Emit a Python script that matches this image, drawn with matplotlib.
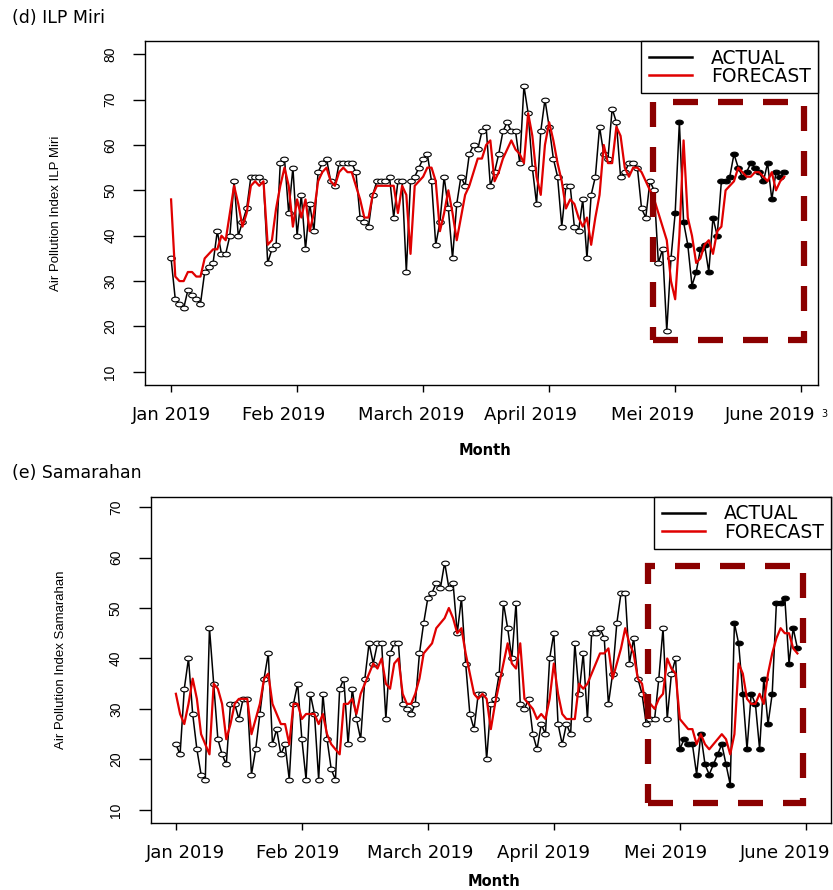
import numpy as np
import matplotlib
matplotlib.use('Agg')
import matplotlib.pyplot as plt
from matplotlib.lines import Line2D
from matplotlib.patches import Rectangle

plt.rcParams['font.family'] = ['DejaVu Sans']

# month ticks every 30 days; the labels sit a bit off the ticks in the original
month_labels = ['Jan 2019', 'Feb 2019', 'March 2019', 'April 2019', 'Mei 2019', 'June 2019']
month_ticks = [0, 30, 60, 90, 120, 150]
test_start = 120   # days from here are drawn with filled points

# (d) ILP Miri
miri_actual = [35, 26, 25, 24, 28, 27, 26, 25, 32, 33,
               34, 41, 36, 36, 40, 52, 40, 43, 46, 53,
               53, 53, 52, 34, 37, 38, 56, 57, 45, 55,
               40, 49, 37, 47, 41, 54, 56, 57, 52, 51,
               56, 56, 56, 56, 54, 44, 43, 42, 49, 52,
               52, 52, 53, 44, 52, 52, 32, 52, 53, 55,
               57, 58, 52, 38, 43, 53, 46, 35, 47, 53,
               51, 58, 60, 59, 63, 64, 51, 54, 58, 63,
               65, 63, 63, 56, 73, 67, 55, 47, 63, 70,
               64, 57, 53, 42, 51, 51, 42, 41, 48, 35,
               49, 53, 64, 58, 57, 68, 65, 53, 54, 56,
               56, 55, 46, 44, 52, 50, 34, 37, 19, 35,
               45, 65, 43, 38, 29, 32, 37, 38, 32, 44,
               40, 52, 52, 53, 58, 55, 53, 54, 56, 55,
               54, 52, 56, 48, 54, 53, 54]
miri_forecast = [48, 31, 30, 30, 32, 32, 31, 31, 35, 36,
                 37, 37, 40, 39, 45, 51, 47, 42, 45, 51,
                 52, 51, 52, 38, 39, 46, 51, 55, 51, 42,
                 48, 44, 48, 41, 45, 52, 54, 55, 52, 51,
                 54, 55, 54, 54, 51, 48, 44, 44, 49, 51,
                 51, 51, 51, 51, 45, 51, 49, 36, 51, 52,
                 53, 55, 55, 52, 41, 45, 50, 45, 39, 44,
                 49, 51, 54, 57, 57, 60, 61, 52, 54, 57,
                 59, 61, 59, 58, 56, 67, 62, 53, 49, 60,
                 65, 61, 56, 52, 46, 48, 47, 44, 42, 44,
                 38, 44, 49, 60, 56, 56, 64, 62, 55, 53,
                 55, 55, 54, 52, 50, 48, 45, 42, 39, 30,
                 26, 40, 61, 44, 40, 34, 35, 38, 39, 36,
                 41, 42, 50, 51, 52, 55, 54, 53, 53, 54,
                 54, 53, 52, 54, 50, 52, 53]

# (e) Samarahan
sam_actual = [23, 21, 34, 40, 29, 22, 17, 16, 46, 35,
              24, 21, 19, 31, 31, 28, 32, 32, 17, 22,
              29, 36, 41, 23, 26, 21, 23, 16, 31, 35,
              24, 16, 33, 29, 16, 33, 24, 18, 16, 34,
              36, 23, 34, 28, 24, 36, 43, 39, 43, 43,
              28, 41, 43, 43, 31, 30, 29, 31, 41, 47,
              52, 53, 55, 54, 59, 54, 55, 45, 52, 39,
              29, 26, 33, 33, 20, 31, 32, 37, 51, 46,
              40, 51, 31, 30, 32, 25, 22, 27, 25, 40,
              45, 27, 23, 27, 25, 43, 33, 41, 28, 45,
              45, 46, 44, 31, 37, 47, 53, 53, 39, 44,
              36, 33, 27, 28, 28, 36, 46, 28, 37, 40,
              22, 24, 23, 23, 17, 25, 19, 17, 19, 21,
              23, 19, 15, 47, 43, 33, 22, 33, 31, 22,
              36, 27, 33, 51, 51, 52, 39, 46, 42]
sam_forecast = [33, 29, 27, 31, 36, 32, 25, 23, 21, 35,
                34, 31, 24, 27, 31, 32, 32, 32, 25, 28,
                31, 36, 37, 31, 29, 27, 27, 23, 31, 31,
                28, 29, 29, 29, 27, 29, 25, 23, 22, 21,
                31, 31, 32, 29, 33, 35, 37, 39, 38, 40,
                35, 34, 39, 40, 33, 31, 31, 33, 36, 41,
                42, 43, 46, 47, 48, 50, 48, 45, 46, 41,
                37, 33, 32, 33, 32, 26, 31, 35, 39, 43,
                39, 38, 43, 32, 31, 30, 28, 29, 28, 32,
                39, 33, 29, 28, 28, 28, 35, 34, 35, 37,
                39, 41, 41, 42, 36, 39, 42, 46, 43, 41,
                36, 35, 30, 31, 30, 32, 33, 40, 38, 37,
                28, 27, 26, 26, 23, 25, 23, 22, 23, 24,
                25, 24, 21, 25, 39, 37, 32, 31, 31, 33,
                31, 37, 41, 44, 46, 45, 45, 42, 41]

RED = '#e00000'
BOXRED = '#8b0000'

# small flat ellipse used as point marker
t = np.linspace(0, 2 * np.pi, 25)
ellipse = np.column_stack([np.cos(t), 0.62 * np.sin(t)])


def draw_panel(ax, actual, forecast, box, ylim, yticks, ylabel, xlim, label_pos, month_y):
    actual = np.array(actual)
    x = np.arange(len(actual))
    ax.plot(x, actual, color='black', lw=1.1, zorder=2)
    ax.plot(x[:test_start], actual[:test_start], ls='none', marker=ellipse, ms=5.5,
            mfc='white', mec='black', mew=0.8, zorder=3)
    ax.plot(x[test_start:], actual[test_start:], ls='none', marker=ellipse, ms=5.5,
            mfc='black', mec='black', mew=0.8, zorder=3)
    ax.plot(np.arange(len(forecast)), forecast, color=RED, lw=1.6, zorder=4)

    x0, x1, y0, y1 = box
    ax.add_patch(Rectangle((x0, y0), x1 - x0, y1 - y0, fill=False, ec=BOXRED,
                           lw=4.5, ls=(0, (4, 3.2)), zorder=5))

    ax.set_xlim(*xlim)
    ax.set_ylim(*ylim)
    ax.set_yticks(yticks)
    ax.set_xticks(month_ticks)
    ax.set_xticklabels([])
    ax.set_xticks(label_pos, minor=True)
    ax.set_xticklabels(month_labels, minor=True)
    ax.tick_params(axis='x', which='major', length=5, width=1)
    ax.tick_params(axis='x', which='minor', length=0, pad=15, labelsize=13)
    ax.tick_params(axis='y', length=9, width=1, pad=11, labelsize=10, labelrotation=90)
    for lab in ax.get_yticklabels():
        lab.set_va('center')
        lab.set_family('Liberation Sans')
    for s in ax.spines.values():
        s.set_linewidth(1.0)

    ax.set_ylabel(ylabel, family='Liberation Sans', fontsize=9.5)
    ax.yaxis.set_label_coords(-0.123, 0.5)
    ax.set_xlabel('Month', fontsize=10.5, fontweight='bold')
    ax.xaxis.set_label_coords(0.505, month_y)

    handles = [Line2D([], [], color='black', lw=1.8), Line2D([], [], color=RED, lw=1.8)]
    leg = ax.legend(handles, ['ACTUAL', 'FORECAST'], loc='upper right', borderaxespad=0,
                    fancybox=False, edgecolor='black', framealpha=1, fontsize=13.5,
                    handlelength=2.3, labelspacing=-0.05, borderpad=0.4, handletextpad=1.0)
    leg.get_frame().set_linewidth(1.0)


fig = plt.figure(figsize=(8.33, 8.90), dpi=100)

ax1 = fig.add_axes([0.1741, 0.5674, 0.8079, 0.3865])
draw_panel(ax1, miri_actual, miri_forecast, (114.8, 150.7, 17.1, 69.5),
           (7.1, 82.9), [10, 20, 30, 40, 50, 60, 70, 80],
           'Air Pollution Index ILP Miri', (-6.2, 154.0),
           [0.2, 26.8, 57.1, 85.5, 114.5, 142.6], -0.17)

ax2 = fig.add_axes([0.1809, 0.0753, 0.8167, 0.3663])
draw_panel(ax2, sam_actual, sam_forecast, (112.4, 149.3, 11.4, 58.3),
           (7.4, 72.0), [10, 20, 30, 40, 50, 60, 70],
           'Air Pollution Index Samarahan', (-6.0, 156.0),
           [2.4, 29.0, 58.1, 87.6, 116.7, 145.0], -0.158)

fig.text(12 / 833, 1 - 18 / 890, '(d) ILP Miri', fontsize=12.5, va='center')
fig.text(12 / 833, 1 - 473 / 890, '(e) Samarahan', fontsize=12.5, va='center')
fig.text(821 / 833, 1 - 414 / 890, '3', fontsize=7, va='center')

fig.savefig('out.png', dpi=100)
